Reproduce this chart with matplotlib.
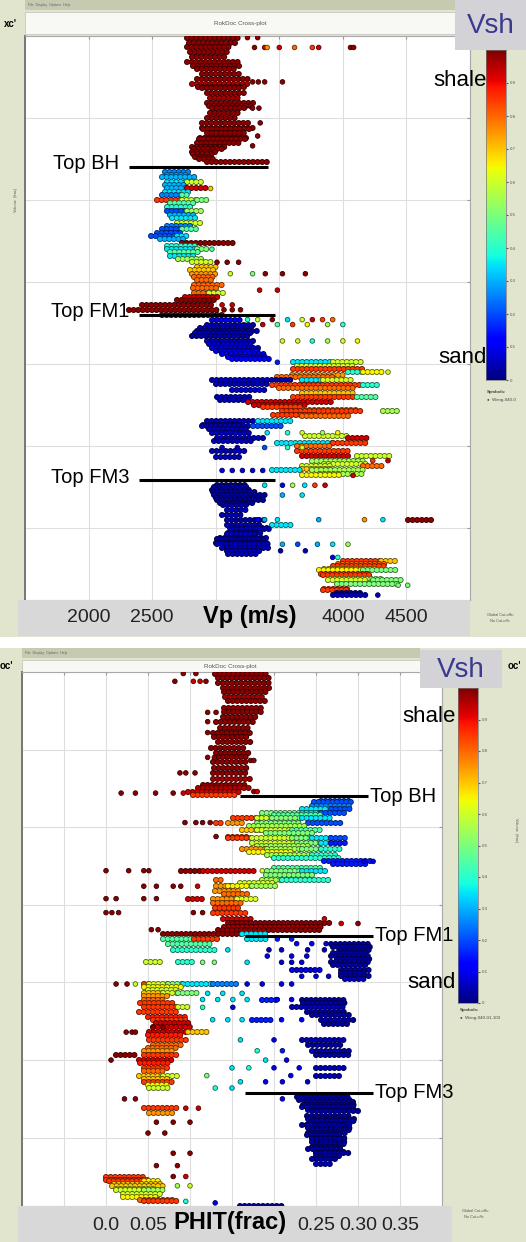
import numpy as np
import matplotlib
matplotlib.use('Agg')
import matplotlib.pyplot as plt
from matplotlib.patches import Rectangle
from matplotlib.transforms import blended_transform_factory

plt.rcParams['font.family'] = ['Liberation Sans', 'DejaVu Sans']
plt.rcParams['lines.scale_dashes'] = False

W, H = 526, 1242

# ---- data: Vp panel (depth, vp_from, vp_to, vsh) streaks and (depth, vp, vsh) dots ----
vp_upper_streaks = [
    (2001, 2775, 3210, 0.99), (2004, 2790, 3170, 0.99), (2007, 2775, 3130, 0.99),
    (2010, 2800, 3090, 0.99), (2013, 2815, 3100, 0.99), (2016, 2775, 3210, 0.99),
    (2018, 2820, 3200, 0.99), (2020, 2855, 3170, 0.99), (2023, 2895, 3210, 0.99),
    (2026, 2855, 3250, 0.99), (2029, 2815, 3250, 0.96), (2031, 2860, 3230, 0.99),
    (2032, 2895, 3210, 0.99), (2035, 2930, 3250, 0.99), (2038, 2955, 3210, 0.97),
    (2041, 2930, 3300, 0.99), (2043, 2950, 3280, 0.99), (2044, 2970, 3250, 0.99),
    (2047, 2955, 3210, 0.99), (2050, 2930, 3170, 0.99), (2053, 2895, 3250, 0.99),
    (2056, 2895, 3290, 0.99), (2057, 2900, 3270, 0.99), (2059, 2930, 3250, 0.99),
    (2062, 2880, 3250, 0.99), (2063, 2870, 3240, 0.99), (2065, 2855, 3210, 0.99),
    (2068, 2815, 3090, 0.99), (2069, 2830, 3060, 0.99), (2071, 2815, 3010, 0.99),
    (2072, 2820, 2990, 0.99), (2074, 2840, 2970, 0.99), (2075, 2870, 3000, 0.99),
    (2077, 2930, 3405, 0.99),
]
vp_upper_dots = [
    (2007, 3305, 0.99), (2007, 3385, 0.93), (2007, 3405, 0.75), (2007, 3500, 0.93),
    (2007, 3620, 0.8), (2007, 3760, 0.85), (2007, 3810, 0.93), (2007, 4060, 0.99),
    (2007, 4085, 0.99), (2001, 3250, 0.99), (2001, 3330, 0.99),
    (2028, 3290, 0.99), (2028, 3335, 0.99), (2028, 3385, 0.99), (2028, 3525, 0.99),
    (2044, 3290, 0.99), (2044, 3340, 0.99), (2053, 3350, 0.99), (2061, 3330, 0.99),
    (2067, 3290, 0.99),
]
vp_bh_streaks = [
    (2083, 2600, 2815, 0.25), (2085, 2620, 2790, 0.28), (2086, 2580, 2855, 0.3),
    (2089, 2615, 2775, 0.35), (2089, 2775, 2895, 0.6), (2091, 2600, 2760, 0.3),
    (2093, 2615, 2775, 0.3), (2093, 2775, 2930, 0.93), (2095, 2600, 2800, 0.35),
    (2097, 2580, 2735, 0.25), (2097, 2735, 2800, 0.45),
    (2100, 2540, 2735, 0.85), (2100, 2735, 2855, 0.6), (2100, 2855, 2930, 0.5),
    (2102, 2640, 2840, 0.45), (2104, 2615, 2815, 0.4), (2107, 2615, 2775, 0.2),
    (2107, 2775, 2895, 0.55), (2109, 2640, 2820, 0.3),
    (2111, 2655, 2855, 0.35), (2114, 2695, 2895, 0.6), (2116, 2620, 2800, 0.25),
    (2118, 2580, 2735, 0.2), (2118, 2735, 2855, 0.45), (2120, 2540, 2720, 0.2),
    (2122, 2490, 2695, 0.2), (2122, 2695, 2780, 0.35), (2124, 2560, 2740, 0.3),
    (2126, 2735, 3150, 0.99), (2128, 2620, 2870, 0.4),
    (2130, 2615, 2855, 0.35), (2130, 2855, 2930, 0.5), (2132, 2640, 2880, 0.45),
    (2134, 2640, 2855, 0.35), (2136, 2700, 2900, 0.55), (2138, 2815, 2970, 0.6),
    (2141, 2855, 3010, 0.7), (2143, 2800, 2990, 0.7),
    (2145, 2815, 3010, 0.75), (2147, 2830, 3000, 0.8), (2149, 2855, 2990, 0.8),
    (2152, 2830, 3050, 0.8), (2154, 2820, 3000, 0.8),
    (2157, 2830, 2950, 0.8), (2157, 2950, 3090, 0.6), (2159, 2760, 3030, 0.93),
    (2161, 2695, 3010, 0.99),
    (2164, 2420, 2970, 0.99), (2167, 2315, 3010, 0.99), (2170, 2580, 3050, 0.99),
]
vp_bh_dots = [
    (2138, 3010, 0.99), (2138, 3090, 0.99), (2138, 3180, 0.99),
    (2145, 3115, 0.6), (2145, 3290, 0.5), (2145, 3390, 0.99), (2145, 3525, 0.99),
    (2145, 3705, 0.99), (2155, 3345, 0.93), (2155, 3485, 0.93),
    (2164, 3050, 0.93), (2164, 3130, 0.93), (2167, 3065, 0.99), (2167, 3130, 0.99),
    (2167, 3195, 0.99), (2093, 2960, 0.7), (2130, 2970, 0.45),
]
vp_fm1_streaks = [
    (2173, 2970, 3210, 0.1), (2176, 2930, 3290, 0.05), (2178, 2880, 3300, 0.05),
    (2180, 2855, 3330, 0.05), (2181, 2840, 3280, 0.04),
    (2183, 2815, 3250, 0.03), (2186, 2930, 3290, 0.05), (2188, 2950, 3300, 0.06),
    (2190, 2970, 3330, 0.08), (2192, 3000, 3360, 0.08),
    (2194, 3050, 3405, 0.1), (2196, 3100, 3420, 0.1), (2197, 3130, 3445, 0.12),
    (2199, 3605, 3920, 0.35), (2199, 3920, 4155, 0.6), (2201, 3640, 4100, 0.6),
    (2203, 3605, 4155, 0.85),
    (2205, 4040, 4155, 0.4), (2205, 4155, 4315, 0.65), (2207, 3600, 4000, 0.75),
    (2208, 3485, 3920, 0.8),
    (2210, 2970, 3605, 0.05), (2210, 3680, 3840, 0.35), (2210, 3840, 4080, 0.6),
    (2212, 3000, 3400, 0.05),
    (2213, 3445, 4155, 0.85), (2213, 4155, 4275, 0.4), (2215, 3500, 4100, 0.8),
    (2216, 3130, 3405, 0.07),
    (2218, 3680, 4115, 0.7), (2220, 3010, 3290, 0.05), (2220, 3605, 4115, 0.85),
    (2220, 4115, 4275, 0.45), (2222, 3030, 3250, 0.05),
    (2223, 3250, 3920, 0.93), (2225, 3300, 3700, 0.93), (2226, 3370, 3680, 0.85),
    (2228, 3700, 4100, 0.75),
    (2229, 3525, 4155, 0.85), (2229, 4315, 4435, 0.55), (2231, 3450, 3800, 0.85),
    (2232, 3680, 4040, 0.8),
    (2235, 2930, 3290, 0.05), (2235, 3330, 3605, 0.35), (2237, 2900, 3200, 0.05),
    (2238, 2895, 3250, 0.05), (2238, 3290, 3525, 0.2), (2240, 2950, 3270, 0.05),
    (2242, 2970, 3290, 0.05), (2244, 3700, 4040, 0.6),
    (2245, 3010, 3370, 0.05), (2245, 4040, 4195, 0.93), (2247, 2990, 3300, 0.05),
    (2248, 3485, 3920, 0.35), (2248, 3920, 4195, 0.85), (2250, 3640, 3900, 0.8),
    (2253, 2970, 3250, 0.05), (2253, 3640, 4040, 0.85),
    (2256, 3680, 4040, 0.93), (2256, 4115, 4395, 0.6), (2257, 3000, 3200, 0.05),
    (2259, 3760, 4155, 0.55), (2261, 3850, 4200, 0.6),
    (2262, 3680, 3920, 0.6), (2262, 4155, 4315, 0.8), (2264, 3680, 3900, 0.7),
    (2265, 3445, 3680, 0.35), (2265, 3760, 4155, 0.55), (2267, 3820, 4150, 0.55),
    (2268, 3680, 4000, 0.65),
]
vp_fm1_dots = [
    (2173, 3250, 0.4), (2173, 3330, 0.6), (2173, 3445, 0.99), (2173, 3565, 0.35),
    (2173, 3680, 0.6), (2173, 3760, 0.93), (2173, 3840, 0.85), (2173, 3920, 0.8),
    (2176, 3370, 0.93), (2176, 3485, 0.45), (2176, 3605, 0.85), (2176, 3720, 0.65),
    (2176, 3880, 0.55), (2176, 4000, 0.4),
    (2186, 3525, 0.6), (2186, 3645, 0.6), (2186, 3760, 0.4), (2186, 3880, 0.55),
    (2186, 4000, 0.6), (2186, 4115, 0.65), (2199, 3485, 0.15), (2205, 4355, 0.6),
    (2242, 3405, 0.35), (2242, 3565, 0.4), (2242, 3680, 0.6), (2242, 3840, 0.55),
    (2242, 3960, 0.65), (2251, 3050, 0.05), (2251, 3170, 0.05), (2251, 3385, 0.2),
    (2251, 3565, 0.4), (2251, 3680, 0.6), (2259, 4235, 0.85), (2259, 4355, 0.93),
    (2265, 3050, 0.1), (2265, 3130, 0.1), (2265, 3210, 0.1), (2265, 3290, 0.1),
    (2265, 3370, 0.1), (2268, 4080, 0.93),
]
vp_fm3_streaks = [
    (2274, 3010, 3250, 0.03), (2275, 2990, 3270, 0.03), (2277, 2970, 3290, 0.03),
    (2278, 2980, 3330, 0.03), (2280, 2990, 3405, 0.03), (2282, 3000, 3380, 0.03),
    (2283, 3010, 3370, 0.03), (2285, 3030, 3300, 0.03), (2286, 3060, 3270, 0.03),
    (2289, 3090, 3250, 0.05),
    (2292, 3050, 3210, 0.05), (2295, 3090, 3405, 0.03), (2295, 4510, 4725, 0.99),
    (2298, 3090, 3370, 0.05), (2298, 3445, 3605, 0.35), (2300, 3110, 3420, 0.05),
    (2301, 3130, 3445, 0.05), (2303, 3100, 3380, 0.05),
    (2304, 3090, 3330, 0.05), (2306, 3030, 3400, 0.04), (2307, 3010, 3405, 0.03),
    (2309, 3000, 3430, 0.04), (2310, 3010, 3445, 0.05), (2312, 3050, 3420, 0.05),
    (2314, 3090, 3370, 0.05), (2316, 3100, 3350, 0.05),
    (2320, 4000, 4300, 0.85), (2320, 4300, 4435, 0.7), (2322, 3960, 4330, 0.8),
    (2323, 3920, 4355, 0.85), (2325, 3850, 4250, 0.7),
    (2326, 3810, 4155, 0.65), (2326, 4155, 4435, 0.5), (2328, 3830, 4200, 0.85),
    (2329, 3840, 4235, 0.85), (2331, 3900, 4300, 0.55),
    (2332, 3880, 4195, 0.6), (2332, 4235, 4475, 0.5), (2334, 3950, 4450, 0.5),
    (2337, 3850, 4050, 0.85),
    (2338, 3840, 4040, 0.85), (2340, 3950, 4150, 0.05), (2341, 3920, 4195, 0.05),
]
vp_fm3_dots = [
    (2274, 3385, 0.35), (2274, 3525, 0.1), (2274, 3605, 0.55), (2274, 3700, 0.35),
    (2274, 3780, 0.85), (2274, 3860, 0.93), (2280, 3525, 0.3), (2280, 3680, 0.35),
    (2295, 3330, 0.1), (2295, 3385, 0.3), (2295, 3485, 0.35), (2295, 3810, 0.3),
    (2295, 4170, 0.75), (2295, 4315, 0.35), (2310, 3525, 0.3), (2310, 3645, 0.2),
    (2310, 3800, 0.3), (2310, 3920, 0.35), (2310, 4040, 0.55), (2314, 3510, 0.05),
    (2314, 3705, 0.05), (2318, 3920, 0.1), (2318, 3960, 0.4), (2335, 4435, 0.5),
    (2335, 4510, 0.5), (2341, 4275, 0.05),
]

# ---- data: PHIT panel ----
phit_upper_streaks = [
    (2001, 0.130, 0.195, 0.99), (2004, 0.133, 0.198, 0.99), (2007, 0.133, 0.198, 0.99),
    (2010, 0.139, 0.195, 0.99), (2013, 0.141, 0.192, 0.99), (2016, 0.142, 0.188, 0.97),
    (2019, 0.145, 0.192, 0.99), (2023, 0.141, 0.186, 0.99), (2026, 0.141, 0.188, 0.99),
    (2029, 0.139, 0.180, 0.99), (2032, 0.131, 0.180, 0.99), (2036, 0.136, 0.174, 0.99),
    (2039, 0.127, 0.174, 0.99), (2042, 0.129, 0.172, 0.99), (2045, 0.133, 0.174, 0.99),
    (2049, 0.125, 0.168, 0.99), (2052, 0.131, 0.172, 0.99), (2055, 0.133, 0.168, 0.99),
    (2058, 0.127, 0.168, 0.99), (2062, 0.129, 0.168, 0.99), (2065, 0.127, 0.168, 0.99),
    (2069, 0.127, 0.174, 0.97), (2073, 0.115, 0.168, 0.99), (2075, 0.109, 0.172, 0.96),
    (2077, 0.098, 0.162, 0.93), (2079, 0.104, 0.156, 0.85),
]
phit_upper_dots = [
    (2001, 0.092, 0.99), (2001, 0.107, 0.99), (2006, 0.082, 0.99), (2006, 0.104, 0.93),
    (2006, 0.112, 0.93), (2006, 0.119, 0.99), (2026, 0.121, 0.99), (2026, 0.131, 0.99),
    (2032, 0.121, 0.99), (2039, 0.121, 0.99), (2055, 0.121, 0.99), (2055, 0.129, 0.99),
    (2057, 0.172, 0.99), (2057, 0.176, 0.99), (2065, 0.088, 0.99), (2065, 0.095, 0.99),
    (2065, 0.106, 0.99), (2078, 0.018, 0.99), (2078, 0.035, 0.99), (2078, 0.059, 0.99),
    (2078, 0.080, 0.99), (2078, 0.092, 0.93), (2077, 0.176, 0.99), (2077, 0.180, 0.93),
]
phit_bh_streaks = [
    (2083, 0.256, 0.292, 0.2), (2084, 0.248, 0.292, 0.2), (2086, 0.245, 0.29, 0.25),
    (2088, 0.233, 0.285, 0.35), (2088, 0.268, 0.292, 0.2),
    (2091, 0.186, 0.233, 0.5), (2091, 0.233, 0.256, 0.35), (2091, 0.256, 0.286, 0.2),
    (2092, 0.200, 0.260, 0.45),
    (2094, 0.151, 0.186, 0.85), (2094, 0.180, 0.198, 0.6), (2094, 0.198, 0.233, 0.5),
    (2094, 0.233, 0.268, 0.35),
    (2097, 0.131, 0.142, 0.85), (2097, 0.145, 0.162, 0.75), (2097, 0.180, 0.233, 0.5),
    (2097, 0.241, 0.280, 0.2), (2099, 0.170, 0.240, 0.55),
    (2102, 0.162, 0.192, 0.7), (2102, 0.180, 0.221, 0.6), (2102, 0.221, 0.256, 0.45),
    (2104, 0.190, 0.250, 0.5), (2106, 0.145, 0.168, 0.85),
    (2107, 0.145, 0.174, 0.85), (2107, 0.174, 0.221, 0.6), (2107, 0.221, 0.245, 0.5),
    (2107, 0.245, 0.268, 0.35), (2107, 0.268, 0.286, 0.2),
    (2110, 0.174, 0.227, 0.6), (2110, 0.227, 0.256, 0.5), (2110, 0.256, 0.280, 0.35),
    (2110, 0.268, 0.286, 0.15), (2112, 0.180, 0.240, 0.55),
    (2114, 0.162, 0.192, 0.75), (2114, 0.192, 0.233, 0.55), (2114, 0.233, 0.256, 0.5),
    (2114, 0.256, 0.280, 0.4), (2116, 0.170, 0.220, 0.65),
    (2118, 0.192, 0.245, 0.55), (2118, 0.245, 0.275, 0.4), (2120, 0.200, 0.280, 0.4),
    (2122, 0.260, 0.315, 0.15), (2124, 0.270, 0.310, 0.15), (2126, 0.200, 0.260, 0.45),
    (2128, 0.089, 0.115, 0.99), (2128, 0.115, 0.178, 0.93), (2128, 0.192, 0.233, 0.5),
    (2128, 0.233, 0.262, 0.35), (2131, 0.190, 0.250, 0.5),
    (2134, 0.131, 0.142, 0.8), (2134, 0.186, 0.209, 0.55), (2134, 0.209, 0.266, 0.4),
    (2136, 0.160, 0.200, 0.6),
    (2138, 0.131, 0.151, 0.75), (2138, 0.145, 0.174, 0.65), (2138, 0.174, 0.204, 0.55),
    (2141, 0.130, 0.160, 0.75), (2143, 0.140, 0.170, 0.8),
    (2146, 0.098, 0.115, 0.93), (2146, 0.127, 0.156, 0.75), (2146, 0.156, 0.180, 0.62),
    (2149, 0.127, 0.162, 0.8), (2152, 0.130, 0.160, 0.85), (2155, 0.127, 0.168, 0.85),
    (2159, 0.139, 0.174, 0.93),
    (2162, 0.145, 0.268, 0.99), (2164, 0.140, 0.260, 0.97), (2166, 0.133, 0.256, 0.99),
    (2169, 0.068, 0.162, 0.99), (2169, 0.162, 0.192, 0.35),
]
phit_bh_dots = [
    (2097, 0.094, 0.99), (2097, 0.107, 0.99), (2097, 0.115, 0.99), (2097, 0.124, 0.99),
    (2106, 0.131, 0.99), (2122, 0.307, 0.1), (2122, 0.318, 0.1),
    (2128, 0.0, 0.99), (2128, 0.027, 0.99), (2128, 0.045, 0.99), (2128, 0.051, 0.99),
    (2128, 0.186, 0.6), (2138, 0.045, 0.99), (2138, 0.06, 0.99), (2138, 0.08, 0.99),
    (2138, 0.089, 0.99), (2138, 0.109, 0.93), (2146, 0.0, 0.99), (2146, 0.012, 0.99),
    (2146, 0.045, 0.99), (2146, 0.06, 0.99), (2155, 0.0, 0.99), (2155, 0.007, 0.99),
    (2155, 0.015, 0.99), (2155, 0.104, 0.99), (2155, 0.115, 0.99), (2166, 0.054, 0.99),
    (2166, 0.062, 0.99), (2162, 0.28, 0.93), (2162, 0.30, 0.99), (2159, 0.26, 0.93),
]
phit_fm1_streaks = [
    (2172, 0.068, 0.105, 0.45), (2172, 0.105, 0.133, 0.85), (2172, 0.168, 0.192, 0.35),
    (2175, 0.074, 0.127, 0.45), (2175, 0.268, 0.315, 0.03), (2177, 0.270, 0.315, 0.03),
    (2179, 0.080, 0.133, 0.4), (2179, 0.280, 0.315, 0.03), (2181, 0.270, 0.310, 0.03),
    (2183, 0.268, 0.315, 0.03), (2185, 0.275, 0.315, 0.03),
    (2187, 0.048, 0.068, 0.6), (2187, 0.086, 0.104, 0.4), (2187, 0.268, 0.313, 0.03),
    (2189, 0.270, 0.310, 0.03),
    (2192, 0.221, 0.256, 0.08), (2192, 0.280, 0.315, 0.03), (2194, 0.280, 0.310, 0.03),
    (2196, 0.280, 0.313, 0.03), (2198, 0.285, 0.310, 0.05),
    (2201, 0.045, 0.056, 0.85), (2201, 0.051, 0.074, 0.6), (2201, 0.074, 0.092, 0.5),
    (2201, 0.092, 0.127, 0.35), (2201, 0.127, 0.156, 0.25),
    (2203, 0.045, 0.090, 0.65), (2205, 0.050, 0.085, 0.6),
    (2207, 0.045, 0.068, 0.7), (2207, 0.068, 0.086, 0.6), (2207, 0.086, 0.109, 0.5),
    (2209, 0.045, 0.075, 0.75),
    (2211, 0.045, 0.068, 0.8), (2211, 0.186, 0.204, 0.15), (2211, 0.233, 0.286, 0.03),
    (2213, 0.040, 0.080, 0.85), (2213, 0.235, 0.285, 0.03),
    (2216, 0.045, 0.086, 0.85), (2216, 0.086, 0.098, 0.6), (2216, 0.221, 0.286, 0.05),
    (2219, 0.039, 0.086, 0.85), (2219, 0.239, 0.286, 0.03), (2221, 0.245, 0.290, 0.03),
    (2222, 0.050, 0.095, 0.88),
    (2224, 0.056, 0.098, 0.85), (2224, 0.174, 0.198, 0.15), (2224, 0.256, 0.295, 0.03),
    (2226, 0.060, 0.100, 0.93), (2227, 0.260, 0.290, 0.03),
    (2229, 0.056, 0.104, 0.93), (2232, 0.051, 0.098, 0.93), (2232, 0.098, 0.121, 0.7),
    (2234, 0.050, 0.090, 0.88),
]
phit_fm1_dots = [
    (2175, 0.227, 0.1), (2175, 0.245, 0.1), (2175, 0.262, 0.1), (2172, 0.204, 0.15),
    (2172, 0.221, 0.15), (2179, 0.145, 0.35), (2179, 0.194, 0.05), (2179, 0.209, 0.05),
    (2179, 0.24, 0.05), (2179, 0.26, 0.05), (2183, 0.192, 0.1), (2183, 0.221, 0.1),
    (2183, 0.239, 0.1), (2187, 0.115, 0.5), (2187, 0.129, 0.5), (2187, 0.168, 0.35),
    (2187, 0.209, 0.08), (2187, 0.221, 0.08), (2187, 0.233, 0.08), (2196, 0.233, 0.1),
    (2196, 0.25, 0.1), (2196, 0.265, 0.1), (2201, 0.012, 0.99), (2201, 0.025, 0.99),
    (2201, 0.035, 0.6), (2201, 0.168, 0.1), (2201, 0.186, 0.1), (2201, 0.209, 0.1),
    (2201, 0.221, 0.1), (2207, 0.121, 0.35), (2207, 0.139, 0.35), (2207, 0.162, 0.35),
    (2211, 0.115, 0.35), (2211, 0.133, 0.35), (2211, 0.151, 0.35), (2211, 0.168, 0.35),
    (2211, 0.204, 0.1), (2211, 0.221, 0.1), (2216, 0.115, 0.4), (2216, 0.151, 0.1),
    (2224, 0.127, 0.35), (2224, 0.145, 0.35), (2224, 0.162, 0.35), (2224, 0.209, 0.1),
    (2224, 0.233, 0.1), (2229, 0.056, 0.99), (2229, 0.068, 0.99), (2232, 0.024, 0.99),
    (2232, 0.031, 0.99), (2232, 0.035, 0.99),
]
phit_lower_streaks = [
    (2237, 0.051, 0.098, 0.85), (2237, 0.233, 0.286, 0.05),
    (2240, 0.056, 0.092, 0.8), (2240, 0.24, 0.28, 0.03), (2242, 0.050, 0.085, 0.8),
    (2244, 0.045, 0.080, 0.75), (2244, 0.245, 0.29, 0.05),
    (2247, 0.012, 0.035, 0.99), (2247, 0.045, 0.086, 0.85), (2247, 0.25, 0.29, 0.03),
    (2250, 0.039, 0.080, 0.93), (2252, 0.040, 0.075, 0.88),
    (2255, 0.045, 0.074, 0.85), (2255, 0.25, 0.286, 0.05), (2257, 0.045, 0.070, 0.8),
    (2260, 0.039, 0.068, 0.7), (2260, 0.068, 0.086, 0.6), (2260, 0.25, 0.28, 0.05),
    (2262, 0.045, 0.075, 0.7),
    (2264, 0.045, 0.080, 0.85), (2266, 0.050, 0.075, 0.65), (2268, 0.051, 0.074, 0.6),
    (2274, 0.227, 0.29, 0.03), (2276, 0.230, 0.290, 0.03), (2277, 0.239, 0.298, 0.03),
    (2279, 0.235, 0.297, 0.03), (2280, 0.233, 0.295, 0.03), (2282, 0.240, 0.300, 0.03),
    (2283, 0.245, 0.3, 0.03), (2286, 0.239, 0.292, 0.03), (2288, 0.240, 0.295, 0.03),
    (2289, 0.245, 0.298, 0.03), (2291, 0.240, 0.290, 0.03),
    (2292, 0.233, 0.286, 0.03), (2294, 0.240, 0.290, 0.03), (2295, 0.245, 0.29, 0.03),
    (2297, 0.240, 0.285, 0.03), (2298, 0.239, 0.28, 0.03), (2300, 0.245, 0.285, 0.03),
    (2301, 0.245, 0.286, 0.03), (2303, 0.245, 0.285, 0.03), (2304, 0.25, 0.285, 0.03),
    (2306, 0.245, 0.282, 0.03), (2307, 0.24, 0.28, 0.03), (2309, 0.250, 0.285, 0.03),
    (2310, 0.25, 0.29, 0.03), (2312, 0.250, 0.280, 0.03),
    (2314, 0.245, 0.275, 0.03), (2317, 0.25, 0.27, 0.05),
    (2281, 0.045, 0.086, 0.85), (2284, 0.051, 0.08, 0.75),
    (2325, 0.0, 0.045, 0.85), (2327, 0.0, 0.050, 0.85),
    (2328, 0.003, 0.045, 0.85), (2328, 0.045, 0.065, 0.65),
    (2330, 0.010, 0.065, 0.7), (2331, 0.007, 0.07, 0.7), (2333, 0.012, 0.060, 0.6),
    (2334, 0.012, 0.045, 0.6), (2334, 0.045, 0.07, 0.55), (2336, 0.020, 0.065, 0.6),
    (2338, 0.02, 0.06, 0.65), (2340, 0.040, 0.080, 0.8), (2341, 0.045, 0.086, 0.85),
    (2344, 0.16, 0.21, 0.03),
]
phit_lower_dots = [
    (2237, 0.16, 0.35), (2237, 0.2, 0.1), (2244, 0.18, 0.4), (2244, 0.21, 0.15),
    (2250, 0.006, 0.99), (2250, 0.19, 0.35), (2250, 0.215, 0.1), (2255, 0.15, 0.35),
    (2255, 0.17, 0.4), (2255, 0.2, 0.1), (2255, 0.23, 0.1), (2260, 0.12, 0.5),
    (2260, 0.22, 0.1), (2264, 0.16, 0.35), (2264, 0.19, 0.1), (2264, 0.21, 0.1),
    (2264, 0.24, 0.05), (2268, 0.13, 0.4), (2268, 0.15, 0.35), (2275, 0.022, 0.99),
    (2275, 0.035, 0.99), (2275, 0.21, 0.1), (2281, 0.095, 0.93), (2281, 0.11, 0.93),
    (2290, 0.06, 0.99), (2290, 0.08, 0.99), (2290, 0.1, 0.99), (2297, 0.05, 0.99),
    (2297, 0.07, 0.99), (2310, 0.08, 0.99), (2310, 0.1, 0.99), (2318, 0.06, 0.99),
    (2318, 0.085, 0.99), (2325, 0.08, 0.99), (2325, 0.095, 0.93), (2331, 0.085, 0.55),
    (2331, 0.1, 0.6), (2341, 0.095, 0.4), (2342, 0.13, 0.1),
]

# formation tops
top_names = ['Top BH', 'Top FM1', 'Top FM3']
top_depths = [2080, 2170, 2271]
vp_line_from = [2315, 2395, 2395]
vp_line_to = [3415, 3470, 3470]
phit_line_from = [0.160, 0.166, 0.166]
phit_line_to = [0.312, 0.318, 0.318]

vp_tick_vals = [2000, 2500, 4000, 4500]
phit_tick_vals = [0.0, 0.05, 0.25, 0.30, 0.35]
phit_tick_text = ['0.0', '0.05', '0.25', '0.30', '0.35']
cbar_ticks = [0, 0.1, 0.2, 0.3, 0.4, 0.5, 0.6, 0.7, 0.8, 0.9]

cmap = plt.get_cmap('jet')
BG = '#e2e5cd'

fig = plt.figure(figsize=(W / 100, H / 100), dpi=100)
fig.patch.set_facecolor('white')


def box(x, y, w, h):
    return [x / W, 1 - (y + h) / H, w / W, h / H]


def rect(x, y, w, h, color, z=-5, ec='none', lw=0):
    fig.add_artist(Rectangle((x / W, 1 - (y + h) / H), w / W, h / H,
                             transform=fig.transFigure, facecolor=color,
                             edgecolor=ec, linewidth=lw, zorder=z))


def ptext(x, y, s, **kw):
    fig.text(x / W, 1 - y / H, s, **kw)


def draw_cloud(ax, streaks, dots):
    for d, x0, x1, v in streaks:
        face = np.array(cmap(v)[:3])
        edge = face * 0.4
        ax.plot([x0, x1], [d, d], color=edge, lw=4.4, ls=(0, (0.01, 3.3)),
                dash_capstyle='round', zorder=3)
        ax.plot([x0, x1], [d, d], color=face, lw=3.2, ls=(0, (0.01, 3.3)),
                dash_capstyle='round', zorder=3)
    d = [p[0] for p in dots]
    x = [p[1] for p in dots]
    c = [cmap(p[2]) for p in dots]
    e = [tuple(np.array(cmap(p[2])[:3]) * 0.4) for p in dots]
    ax.scatter(x, d, s=11, c=c, edgecolors=e, linewidths=0.6, zorder=4)


def panel(y0, plot_box, xlim, xstep, vbox, cbox, shale_xy, sand_xy, title_x,
          top_w):
    # screenshot background
    rect(0, y0, W, 637 if y0 == 0 else H - y0, BG, z=-6)
    rect(plot_box[0], y0, top_w, 10, '#c5cab0', z=-5)
    rect(plot_box[0], y0 + 12, top_w, 22 if y0 == 0 else 12, '#f8f8f4', z=-5,
         ec='#c0c0b8', lw=0.5)
    ptext(title_x, y0 + (24 if y0 == 0 else 18), 'RokDoc Cross-plot',
          fontsize=4.5, color='#555555', ha='center', va='center')
    ptext(plot_box[0] + 3, y0 + 5, 'File  Display  Options  Help', fontsize=2.5,
          color='#666666', va='center')
    ax = fig.add_axes(box(*plot_box))
    ax.set_xlim(*xlim)
    ax.set_ylim(2344, 2000)
    ax.set_xticks(np.arange(xlim[0], xlim[1] + xstep / 2, xstep))
    ax.set_yticks(np.arange(2000, 2345, 50))
    ax.grid(True, color='#dedede', lw=0.8)
    ax.set_axisbelow(True)
    ax.tick_params(direction='in', length=2, top=True, right=True, bottom=False,
                   left=False, labelleft=False, labelbottom=False, colors='#999999')
    for s in ax.spines.values():
        s.set_color('#a8a8a8')
        s.set_linewidth(0.8)
    ax.spines['left'].set_color('#777777')
    ax.spines['left'].set_linewidth(1.4)
    # Vsh box and colour bar
    rect(vbox[0], vbox[1], vbox[2], vbox[3], '#d3d3d7', z=2)
    ptext(vbox[0] + vbox[2] / 2, vbox[1] + vbox[3] / 2 + 1, 'Vsh', fontsize=20,
          color='#3a3a8e', ha='center', va='center', zorder=3)
    cax = fig.add_axes(box(*cbox))
    cax.imshow(np.linspace(0, 1, 256).reshape(-1, 1), cmap=cmap, aspect='auto',
               origin='lower', extent=[0, 1, 0, 1])
    cax.set_xticks([])
    cax.yaxis.tick_right()
    cax.set_yticks(cbar_ticks)
    cax.set_yticklabels([('%g' % t) for t in cbar_ticks])
    cax.tick_params(axis='y', labelsize=3.2, length=1.5, pad=1, colors='#555555')
    for s in cax.spines.values():
        s.set_color('#777777')
        s.set_linewidth(0.5)
    ptext(shale_xy[0], shale_xy[1], 'shale', fontsize=16, ha='right', va='center')
    ptext(sand_xy[0], sand_xy[1], 'sand', fontsize=16, ha='right', va='center')
    return ax


# ---------------- top panel: Vp ----------------
ax1 = panel(0, (25, 36, 445, 564), (1500, 5000), 500, (455, 0, 71, 50),
            (486, 50, 20, 330), (487, 80), (487, 358), 240, 430)
for st, dt in [(vp_upper_streaks, vp_upper_dots), (vp_bh_streaks, vp_bh_dots),
               (vp_fm1_streaks, vp_fm1_dots), (vp_fm3_streaks, vp_fm3_dots)]:
    draw_cloud(ax1, st, dt)
for name, d, a, b in zip(top_names, top_depths, vp_line_from, vp_line_to):
    ax1.plot([a, b], [d, d], color='black', lw=2.2, zorder=6, solid_capstyle='butt')
    ax1.text(a - 75, d - 2, name, fontsize=14.5, ha='right', va='center', zorder=6)

ptext(10, 24, "xc'", fontsize=7, fontweight='bold', ha='center', va='center')
fig.text(16 / W, 1 - 200 / H, 'Volume  (frac)', fontsize=2.8, rotation=90,
         color='#555555', ha='center', va='center')
ptext(487, 393, 'Symbols:', fontsize=3.2, fontweight='bold', color='#444444')
ptext(487, 401, '\u25cf  Wang-040-0', fontsize=3.2, color='#444444')
ptext(487, 616, 'Global Cut-offs:', fontsize=2.8, color='#555555')
ptext(490, 622, 'No Cut-offs', fontsize=2.8, color='#555555')
rect(18, 600, 452, 36, '#d8d8d8', z=1)
tr1 = blended_transform_factory(ax1.transData, fig.transFigure)
for v in vp_tick_vals:
    fig.text(v, 1 - 618 / H, str(v), fontsize=14, ha='center', va='center',
             transform=tr1, color='#222222', zorder=4)
fig.text(3270, 1 - 617 / H, 'Vp (m/s)', fontsize=17, fontweight='bold',
         ha='center', va='center', transform=tr1, zorder=4)

# ---------------- bottom panel: PHIT ----------------
ax2 = panel(648, (22, 672, 420, 534), (-0.1, 0.4), 0.05, (420, 650, 82, 38),
            (458, 688, 20, 315), (456, 717), (456, 982), 230, 398)
for st, dt in [(phit_upper_streaks, phit_upper_dots), (phit_bh_streaks, phit_bh_dots),
               (phit_fm1_streaks, phit_fm1_dots), (phit_lower_streaks, phit_lower_dots)]:
    draw_cloud(ax2, st, dt)
for name, d, a, b in zip(top_names, top_depths, phit_line_from, phit_line_to):
    ax2.plot([a, b], [d, d], color='black', lw=2.2, zorder=6, solid_capstyle='butt')
    ax2.text(b + 0.002, d, name, fontsize=14.5, ha='left', va='center', zorder=6,
             clip_on=False)

ptext(6, 666, "oc'", fontsize=7, fontweight='bold', ha='center', va='center')
ptext(514, 666, "oc'", fontsize=7, fontweight='bold', ha='center', va='center')
fig.text(516 / W, 1 - 830 / H, 'Volume  (frac)', fontsize=2.8, rotation=270,
         color='#555555', ha='center', va='center')
ptext(460, 1011, 'Symbols:', fontsize=3.2, fontweight='bold', color='#444444')
ptext(460, 1019, '\u25cf  Wang-040-01-103', fontsize=3.2, color='#444444')
ptext(462, 1212, 'Global Cut-offs:', fontsize=2.8, color='#555555')
ptext(464, 1218, 'No Cut-offs', fontsize=2.8, color='#555555')
rect(18, 1206, 434, 36, '#d8d8d8', z=1)
tr2 = blended_transform_factory(ax2.transData, fig.transFigure)
for v, s in zip(phit_tick_vals, phit_tick_text):
    fig.text(v, 1 - 1225 / H, s, fontsize=14, ha='center', va='center',
             transform=tr2, color='#222222', zorder=4)
fig.text(0.147, 1 - 1223 / H, 'PHIT(frac)', fontsize=17, fontweight='bold',
         ha='center', va='center', transform=tr2, zorder=4)

fig.savefig('out.png', dpi=100, facecolor='white')
